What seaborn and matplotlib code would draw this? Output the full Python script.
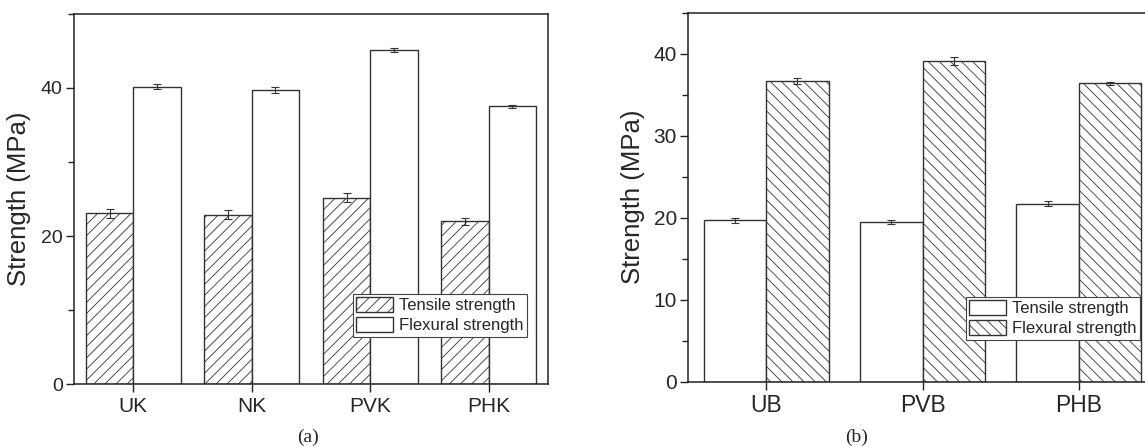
import pandas as pd
import matplotlib.pyplot as plt
import seaborn as sns
from matplotlib.patches import Patch
from matplotlib.ticker import MultipleLocator


sns.set_style("ticks")
plt.rcParams['font.family'] = ['Liberation Sans', 'DejaVu Sans']
plt.rcParams['hatch.linewidth'] = 0.6

strength_types = ['Tensile strength', 'Flexural strength']

# (a) kenaf samples
kenaf = ['UK', 'NK', 'PVK', 'PHK']
kenaf_tensile = [23.1, 22.9, 25.2, 22.0]
kenaf_tensile_err = [0.6, 0.6, 0.6, 0.5]
kenaf_flexural = [40.2, 39.7, 45.1, 37.5]
kenaf_flexural_err = [0.4, 0.4, 0.3, 0.2]

# (b) bamboo samples
bamboo = ['UB', 'PVB', 'PHB']
bamboo_tensile = [19.7, 19.5, 21.7]
bamboo_tensile_err = [0.3, 0.25, 0.3]
bamboo_flexural = [36.7, 39.1, 36.4]
bamboo_flexural_err = [0.35, 0.45, 0.2]

EDGE = '#333333'


def long_table(samples, tensile, flexural):
    return pd.DataFrame({
        'sample': samples * 2,
        'kind': [strength_types[0]] * len(samples) + [strength_types[1]] * len(samples),
        'value': tensile + flexural,
    })


def strength_panel(ax, df, errs, hatches, ymax, major, xtick_size, ytick_size, labelpad):
    sns.barplot(data=df, x='sample', y='value', hue='kind', hue_order=strength_types,
                palette=['white', 'white'], saturation=1, edgecolor=EDGE, linewidth=1.0,
                errorbar=None, gap=0, legend=False, ax=ax)
    for bars, err, hatch in zip(ax.containers, errs, hatches):
        xs = [b.get_x() + b.get_width() / 2 for b in bars]
        ys = [b.get_height() for b in bars]
        for b in bars:
            b.set_hatch(hatch)
        ax.errorbar(xs, ys, yerr=err, fmt='none', ecolor=EDGE, elinewidth=0.8,
                    capsize=3, capthick=0.8)

    n = df['sample'].nunique()
    ax.set_xlim(-0.5, n - 0.5)
    ax.set_ylim(0, ymax)
    ax.yaxis.set_major_locator(MultipleLocator(major))
    ax.yaxis.set_minor_locator(MultipleLocator(major / 2))
    ax.tick_params(axis='both', which='major', direction='out', length=6, width=1, color='#222222')
    ax.tick_params(axis='y', which='minor', direction='out', length=4, width=1, color='#222222')
    ax.tick_params(axis='x', labelsize=xtick_size, pad=3)
    ax.tick_params(axis='y', labelsize=ytick_size, pad=2)
    for s in ax.spines.values():
        s.set_linewidth(1.1)
        s.set_color('#222222')
    ax.set_xlabel('')
    ax.set_ylabel('Strength (MPa)', fontsize=18.5, labelpad=labelpad)

    return [Patch(facecolor='white', edgecolor=EDGE, hatch=h, linewidth=1.0) for h in hatches]


fig = plt.figure(figsize=(11.45, 4.47), dpi=100)
ax1 = fig.add_axes([0.0646, 0.1409, 0.4140, 0.8278])
ax2 = fig.add_axes([0.6009, 0.1460, 0.4096, 0.8256])

h1 = strength_panel(ax1, long_table(kenaf, kenaf_tensile, kenaf_flexural),
                    [kenaf_tensile_err, kenaf_flexural_err], ['///', ''],
                    50, 20, 15, 14, 7)
h2 = strength_panel(ax2, long_table(bamboo, bamboo_tensile, bamboo_flexural),
                    [bamboo_tensile_err, bamboo_flexural_err], ['', '\\\\\\'],
                    45, 10, 16.5, 15, 6)

leg_kw = dict(loc='upper left', bbox_transform=fig.transFigure, borderaxespad=0,
              fontsize=12, fancybox=False, framealpha=1, edgecolor='#444444',
              handlelength=2.2, handleheight=0.95, handletextpad=0.35,
              labelspacing=0.25, borderpad=0.2)
lg1 = ax1.legend(h1, strength_types, bbox_to_anchor=(353 / 1145, 1 - 294 / 447), **leg_kw)
lg2 = ax2.legend(h2, strength_types, bbox_to_anchor=(966 / 1145, 1 - 297 / 447), **leg_kw)
for lg in (lg1, lg2):
    lg.get_frame().set_linewidth(0.8)

fig.text(308 / 1145, 1 - 437 / 447, '(a)', ha='center', va='center',
         family=['Liberation Serif', 'DejaVu Serif'], fontsize=14)
fig.text(857 / 1145, 1 - 437 / 447, '(b)', ha='center', va='center',
         family=['Liberation Serif', 'DejaVu Serif'], fontsize=14)

fig.savefig('out.png', dpi=100)
plt.close(fig)
